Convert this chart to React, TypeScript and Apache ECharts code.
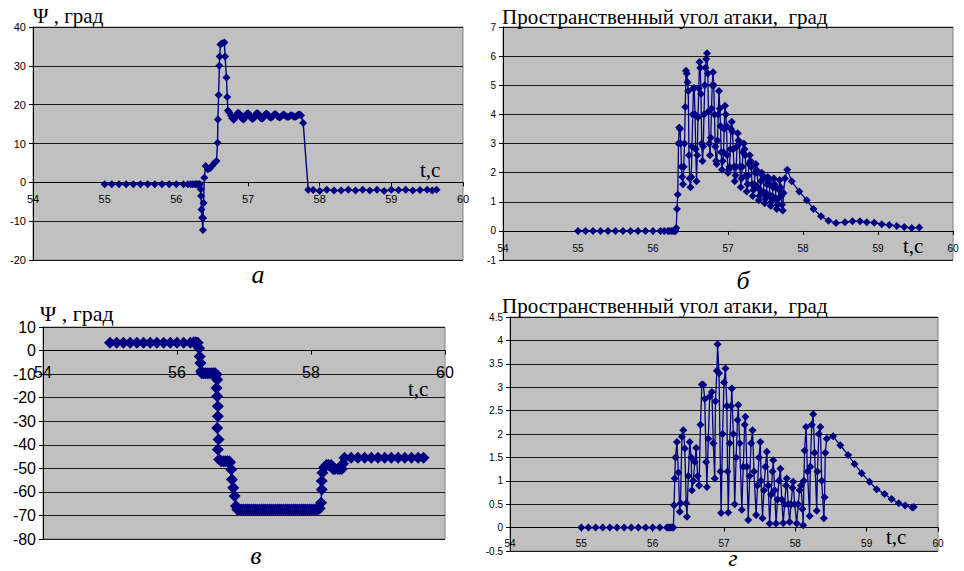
import React, { useEffect, useRef } from "react";
import * as echarts from "echarts";

// ---------- Panel а : Ψ, град ----------
const tA = [55.0, 55.1, 55.2, 55.3, 55.4, 55.5, 55.6, 55.7, 55.8, 55.9, 56.0, 56.1, 56.16, 56.2, 56.23, 56.26, 56.28, 56.3, 56.32, 56.33,
  56.34, 56.345, 56.35, 56.36, 56.37, 56.375, 56.38, 56.39, 56.41, 56.44, 56.47, 56.5, 56.53, 56.56, 56.575, 56.58, 56.59, 56.6, 56.605, 56.615, 56.64, 56.67, 56.68, 56.7, 56.71, 56.72,
  56.74, 56.76, 56.78, 56.8, 56.82, 56.84, 56.86, 56.88, 56.9, 56.92, 56.94, 56.96, 56.98, 57.0, 57.02, 57.04, 57.06, 57.08, 57.1, 57.12, 57.14, 57.16, 57.18, 57.2, 57.22, 57.24, 57.26, 57.28, 57.3, 57.32, 57.34, 57.36, 57.38, 57.4, 57.42, 57.44, 57.46, 57.48, 57.5, 57.52, 57.54, 57.56, 57.58, 57.6, 57.62, 57.64, 57.66, 57.68, 57.7, 57.72, 57.74, 57.77, 57.84,
  57.91, 58.0, 58.1, 58.2, 58.3, 58.4, 58.5, 58.6, 58.7, 58.8, 58.9, 59.0, 59.1, 59.2, 59.3, 59.4, 59.5, 59.57, 59.63];
const vA = [-0.5, -0.5, -0.5, -0.5, -0.5, -0.5, -0.5, -0.5, -0.5, -0.5, -0.5, -0.5, -0.5, -0.5, -0.5, -0.5, -0.5, -0.5, -0.5, -0.5,
  -1.8, -3.5, -7, -9.1, -12.3, -9.2, -5.3, 1.2, 4.2, 3.4, 3.6, 4.3, 5.0, 5.5, 10.2, 16.2, 22.5, 30, 32.4, 35.5, 35.8, 36, 32.4, 27, 22, 18.5,
  18.0, 17.2, 16.5, 16.1, 16.6, 17.4, 17.9, 17.7, 17.0, 16.4, 16.2, 16.8, 17.6, 17.8, 17.4, 16.7, 16.3, 16.5, 17.2, 17.8, 17.7, 17.1, 16.5, 16.4, 16.9, 17.5, 17.7, 17.3, 16.8, 16.6, 16.9, 17.4, 17.6, 17.3, 16.9, 16.7, 16.9, 17.3, 17.5, 17.2, 16.9, 16.8, 17.0, 17.3, 17.2, 16.9, 16.9, 17.1, 17.4, 17.5, 17.2, 15.3, -1.9,
  -2.0, -2.2, -1.9, -2.1, -2.1, -1.9, -2.1, -1.9, -2.1, -1.9, -2.2, -1.9, -2.0, -1.9, -2.1, -2.0, -1.9, -2.1, -1.9];

// ---------- Panel б : Пространственный угол атаки ----------
const tB = [55.0, 55.1, 55.2, 55.3, 55.4, 55.5, 55.6, 55.7, 55.8, 55.9, 56.0, 56.1, 56.15, 56.2, 56.22, 56.25, 56.27, 56.29, 56.3, 56.31, 56.32, 56.33,
  56.34, 56.35, 56.36, 56.37, 56.38, 56.39, 56.4, 56.41, 56.42, 56.43, 56.44, 56.45, 56.46, 56.47, 56.48, 56.49, 56.5, 56.51, 56.52, 56.53, 56.54, 56.55, 56.56, 56.57, 56.58, 56.59, 56.6, 56.61, 56.62, 56.63, 56.64, 56.65, 56.66, 56.67, 56.68, 56.69, 56.7, 56.71, 56.72, 56.73, 56.74, 56.75, 56.76, 56.77, 56.78, 56.79, 56.8, 56.81, 56.82, 56.83, 56.84, 56.85, 56.86, 56.87, 56.88, 56.89, 56.9, 56.91, 56.92, 56.93, 56.94, 56.95, 56.96, 56.97, 56.98, 56.99, 57.0,
  57.01, 57.02, 57.03, 57.04, 57.05, 57.06, 57.07, 57.08, 57.09, 57.1, 57.11, 57.12, 57.13, 57.14, 57.15, 57.16, 57.17, 57.18, 57.19, 57.2, 57.21, 57.22, 57.23, 57.24, 57.25, 57.26, 57.27, 57.28, 57.29, 57.3, 57.31, 57.32, 57.33, 57.34, 57.35, 57.36, 57.37, 57.38, 57.39, 57.4, 57.41, 57.42, 57.43, 57.44, 57.45, 57.46, 57.47, 57.48, 57.49, 57.5, 57.51, 57.52, 57.53, 57.54, 57.55, 57.56, 57.57, 57.58, 57.59, 57.6, 57.61, 57.62, 57.63, 57.64, 57.65, 57.66, 57.67, 57.68, 57.69, 57.7, 57.71, 57.72, 57.73, 57.74, 57.76, 57.79,
  57.85, 57.95, 58.05, 58.14, 58.24, 58.34, 58.44, 58.56, 58.66, 58.76, 58.85, 58.95, 59.05, 59.15, 59.25, 59.35, 59.45, 59.55, 59.6];
const vB = [0, 0, 0, 0, 0, 0, 0, 0, 0, 0, 0, 0, 0, 0, 0, 0, 0, 0, 0, 0.1, 0.75, 1.25,
  3.0, 3.55, 3.5, 3.0, 2.2, 1.85, 1.6, 2.2, 3.0, 4.25, 5.5, 5.4, 5.1, 4.8, 2.6, 1.8, 1.5, 1.85, 2.9, 4.0, 4.9, 4.9, 4.0, 2.8, 1.7, 2.6, 3.9, 4.9, 5.8, 5.6, 4.7, 3.0, 2.4, 2.9, 4.0, 5.0, 5.6, 5.9, 6.1, 5.4, 4.1, 3.0, 2.6, 3.2, 4.2, 5.0, 5.45, 5.0, 4.0, 2.9, 2.4, 2.3, 3.1, 4.0, 4.8, 4.2, 3.6, 2.7, 2.1, 2.4, 2.7, 3.5, 4.3, 4.0, 3.6, 2.6, 2.0,
  2.1, 2.2, 2.8, 3.5, 3.75, 3.4, 2.8, 2.2, 1.7, 1.9, 2.2, 2.9, 3.35, 3.1, 3.0, 2.2, 1.5, 1.8, 2.2, 2.7, 3.0, 2.8, 2.6, 1.9, 1.35, 1.6, 1.9, 2.3, 2.6, 2.4, 2.2, 1.6, 1.2, 1.4, 1.6, 2.0, 2.3, 2.1, 2.0, 1.5, 1.05, 1.2, 1.4, 1.7, 2.0, 1.9, 1.8, 1.3, 0.95, 1.1, 1.3, 1.6, 1.85, 1.7, 1.6, 1.2, 0.85, 1.0, 1.2, 1.5, 1.8, 1.6, 1.5, 1.1, 0.75, 0.9, 1.1, 1.4, 1.75, 1.5, 1.2, 0.9, 0.7, 1.3, 1.8,
  2.1, 1.7, 1.35, 1.05, 0.75, 0.5, 0.35, 0.27, 0.3, 0.33, 0.33, 0.3, 0.28, 0.23, 0.2, 0.17, 0.13, 0.1, 0.12];

// ---------- Panel в : Ψ, град ----------
const tC = [55.0, 55.1, 55.2, 55.3, 55.4, 55.5, 55.6, 55.7, 55.8, 55.9, 56.0, 56.1, 56.2, 56.25, 56.28, 56.31,
  56.33, 56.34, 56.35, 56.36, 56.37, 56.4, 56.43, 56.46, 56.49, 56.52, 56.55, 56.57, 56.59,
  56.6, 56.59, 56.6, 56.61, 56.61, 56.6, 56.62, 56.61, 56.63,
  56.66, 56.69, 56.72, 56.75, 56.78, 56.79,
  56.81, 56.82, 56.84, 56.86, 56.88, 56.9,
  56.93, 56.96, 56.99, 57.02, 57.05, 57.08, 57.11, 57.14, 57.17, 57.2, 57.23, 57.26, 57.29, 57.32, 57.35, 57.38, 57.41, 57.44, 57.47, 57.5, 57.53, 57.56, 57.59, 57.62, 57.65, 57.68, 57.71, 57.74, 57.77, 57.8, 57.83, 57.86, 57.89, 57.92, 57.95, 57.98, 58.01, 58.04, 58.07, 58.1, 58.13,
  58.15, 58.16, 58.16, 58.17, 58.2, 58.23, 58.26, 58.3, 58.33, 58.36, 58.4, 58.43, 58.46, 58.48,
  58.5, 58.6, 58.7, 58.8, 58.9, 59.0, 59.1, 59.2, 59.3, 59.4, 59.5, 59.6, 59.68];
const vC = [3.3, 3.3, 3.3, 3.3, 3.3, 3.3, 3.3, 3.3, 3.3, 3.3, 3.3, 3.3, 3.3, 3.5, 3.5, 3.3,
  1.0, -2.5, -5.3, -8.8, -9.6, -9.6, -9.6, -9.6, -9.6, -9.6, -9.6, -9.6, -10.2,
  -12.4, -15.9, -19.4, -23.6, -27.9, -32.9, -37.8, -42, -46.3,
  -47, -47, -47, -47, -47, -47.5,
  -50.5, -54.7, -58.2, -61.7, -66, -67.5,
  -67.5, -67.5, -67.5, -67.5, -67.5, -67.5, -67.5, -67.5, -67.5, -67.5, -67.5, -67.5, -67.5, -67.5, -67.5, -67.5, -67.5, -67.5, -67.5, -67.5, -67.5, -67.5, -67.5, -67.5, -67.5, -67.5, -67.5, -67.5, -67.5, -67.5, -67.5, -67.5, -67.5, -67.5, -67.5, -67.5, -67.5, -67.5, -67.5, -67.5, -67,
  -64.6, -59, -55.4, -51.9, -49.5, -48.6, -48.6, -48.6, -50.3, -50.3, -50.3, -50.3, -50.3, -48,
  -45.5, -45.5, -45.5, -45.5, -45.5, -45.5, -45.5, -45.5, -45.5, -45.5, -45.5, -45.5, -45.5];

// ---------- Panel г : Пространственный угол атаки ----------
const tD = [55.0, 55.1, 55.2, 55.3, 55.4, 55.5, 55.6, 55.7, 55.8, 55.9, 56.0, 56.1, 56.2, 56.22, 56.24, 56.26, 56.28, 56.29,
  56.3, 56.31, 56.32, 56.34, 56.36, 56.38, 56.39, 56.41, 56.43, 56.45, 56.47, 56.48, 56.5, 56.52, 56.54, 56.55, 56.57, 56.59, 56.61, 56.63, 56.65, 56.67, 56.69, 56.71, 56.73, 56.75, 56.76, 56.78, 56.8, 56.83, 56.85, 56.87, 56.88, 56.9, 56.91, 56.93, 56.95, 56.96, 56.98,
  57.0, 57.02, 57.04, 57.05, 57.06, 57.08, 57.1, 57.11, 57.13, 57.15, 57.17, 57.19, 57.2, 57.22, 57.25, 57.27, 57.29, 57.3, 57.32, 57.34, 57.36, 57.38, 57.4, 57.42, 57.45, 57.47, 57.49, 57.51, 57.52, 57.54, 57.56, 57.58, 57.6, 57.62, 57.64, 57.66, 57.68, 57.69, 57.71, 57.73, 57.75, 57.77, 57.79, 57.81, 57.83, 57.85, 57.87, 57.88, 57.9, 57.92, 57.94, 57.96, 57.97, 57.99,
  58.02, 58.04, 58.06, 58.08, 58.1, 58.11, 58.12, 58.13, 58.15, 58.17, 58.2, 58.21, 58.23, 58.25, 58.27, 58.3, 58.31, 58.33, 58.35, 58.37, 58.4, 58.41, 58.42, 58.44,
  58.53, 58.63, 58.74, 58.83, 58.93, 59.04, 59.14, 59.25, 59.35, 59.45, 59.54, 59.64, 59.66];
const vD = [0, 0, 0, 0, 0, 0, 0, 0, 0, 0, 0, 0, 0, 0, 0, 0, 0, 0,
  0.48, 1.05, 1.5, 1.83, 1.18, 0.34, 0.52, 1.94, 2.08, 1.69, 0.52, 0.23, 1.1, 1.83, 1.5, 0.8, 1.0, 1.4, 1.7, 1.1, 0.9, 2.2, 3.06, 3.05, 2.75, 1.4, 0.87, 1.9, 2.8, 2.9, 1.8, 1.05, 2.7, 3.35, 3.92, 3.3, 1.2, 0.31, 2.0,
  3.1, 3.4, 2.6, 1.2, 0.32, 1.8, 2.6, 2.97, 2.0, 0.5, 1.5, 2.3, 2.62, 1.8, 0.38, 1.3, 2.2, 2.37, 1.3, 0.16, 1.1, 1.8, 2.08, 1.2, 0.27, 0.9, 1.5, 1.83, 1.0, 0.2, 0.8, 1.3, 1.62, 0.9, 0.09, 0.7, 1.2, 1.44, 0.8, 0.09, 0.6, 1.0, 1.26, 0.6, 0.1, 0.5, 0.9, 1.05, 0.5, 0.12, 0.5, 0.85, 0.98, 0.5,
  0.09, 0.5, 0.8, 0.9, 0.4, 0.05, 1.0, 1.65, 2.15, 1.2, 0.25, 1.3, 2.2, 2.42, 1.6, 0.36, 1.2, 2.0, 2.15, 1.0, 0.2, 0.65, 1.6, 1.9,
  1.95, 1.76, 1.55, 1.36, 1.16, 0.98, 0.82, 0.72, 0.61, 0.52, 0.47, 0.43, 0.44];

const NAVY = "#000080";
const SANS = "'Liberation Sans', Arial, sans-serif";
const SERIF = "'Liberation Serif', 'Times New Roman', serif";

const zip = (t: number[], v: number[]) => t.map((x, i) => [x, v[i]]);

export default function App() {
  const ref = useRef<HTMLDivElement>(null);
  useEffect(() => {
    if (!ref.current) return;
    const chart = echarts.init(ref.current, undefined, { renderer: "svg" });

    const gridBoxes = [
      { left: 33, top: 27, width: 430, height: 233 },
      { left: 503, top: 27, width: 450, height: 233 },
      { left: 43, top: 327, width: 402, height: 212 },
      { left: 510, top: 317, width: 428, height: 234 },
    ];
    const grids = gridBoxes.map((g) => ({ ...g, show: true, backgroundColor: "#C0C0C0", borderColor: "#808080", borderWidth: 1 }));

    const xCfg = [
      { interval: 1, fontSize: 11, margin: 11 },
      { interval: 1, fontSize: 10, margin: 13 },
      { interval: 2, fontSize: 16, margin: 14 },
      { interval: 1, fontSize: 10, margin: 11 },
    ];
    const yCfg = [
      { min: -20, max: 40, interval: 10, fontSize: 11 },
      { min: -1, max: 7, interval: 1, fontSize: 10 },
      { min: -80, max: 10, interval: 10, fontSize: 16 },
      { min: -0.5, max: 4.5, interval: 0.5, fontSize: 10 },
    ];

    // x-axis drawn at the zero level of each panel (offset from grid bottom)
    const xAxis = xCfg.map((c, i) => {
      const y = yCfg[i];
      const g = gridBoxes[i];
      const zeroFromBottom = (g.height * (0 - y.min)) / (y.max - y.min);
      return {
        type: "value",
        gridIndex: i,
        min: 54,
        max: 60,
        interval: c.interval,
        position: "bottom",
        offset: -zeroFromBottom,
        axisLine: { show: true, onZero: false, lineStyle: { color: "#000", width: 1 } },
        axisTick: { show: true, length: 4, lineStyle: { color: "#000" } },
        axisLabel: { color: "#000", fontSize: c.fontSize, fontFamily: SANS, margin: c.margin },
        splitLine: { show: false },
      };
    });
    const yAxis = yCfg.map((c, i) => ({
      type: "value",
      gridIndex: i,
      min: c.min,
      max: c.max,
      interval: c.interval,
      axisLine: { show: true, onZero: false, lineStyle: { color: "#000", width: 1 } },
      axisTick: { show: true, length: 4, lineStyle: { color: "#000" } },
      axisLabel: { color: "#000", fontSize: c.fontSize, fontFamily: SANS, margin: 7 },
      splitLine: { show: true, lineStyle: { color: "#1a1a1a", width: 1 } },
    }));

    const mk = (i: number, t: number[], v: number[], size: number, lw: number) => ({
      type: "line",
      xAxisIndex: i,
      yAxisIndex: i,
      data: zip(t, v),
      symbol: "diamond",
      symbolSize: size,
      showAllSymbol: true,
      lineStyle: { color: NAVY, width: lw },
      itemStyle: { color: NAVY },
      emphasis: { disabled: true },
    });

    const txt = (text: string, x: number, y: number, size: number, italic = false, align = "left") => ({
      type: "text",
      x,
      y,
      z: 100,
      style: {
        text,
        fontFamily: SERIF,
        fontSize: size,
        fontStyle: italic ? "italic" : "normal",
        fill: "#000",
        textAlign: align,
        textVerticalAlign: "middle",
      },
    });

    chart.setOption({
      animation: false,
      grid: grids,
      xAxis,
      yAxis,
      series: [
        mk(0, tA, vA, 8, 1.4),
        mk(1, tB, vB, 8, 1.3),
        mk(2, tC, vC, 12, 1.5),
        mk(3, tD, vD, 8, 1.3),
      ],
      graphic: [
        txt("Ψ , град", 33, 16, 21),
        txt("t,c", 420, 170, 21),
        txt("а", 258, 274, 26, true, "center"),
        txt("Пространственный угол атаки,  град", 502, 17, 21),
        txt("t,c", 903, 246, 21),
        txt("б", 743, 280, 26, true, "center"),
        txt("Ψ , град", 40, 313, 22),
        txt("t,c", 408, 389, 21),
        txt("в", 256, 555, 26, true, "center"),
        txt("Пространственный угол атаки,  град", 502, 306, 21),
        txt("t,c", 886, 537, 21),
        txt("г", 733, 558, 24, true, "center"),
      ],
    });
    return () => chart.dispose();
  }, []);
  return (
    <div
      ref={ref}
      style={{ position: "fixed", left: 0, top: 0, width: 964, height: 571, background: "#fff" }}
    />
  );
}
